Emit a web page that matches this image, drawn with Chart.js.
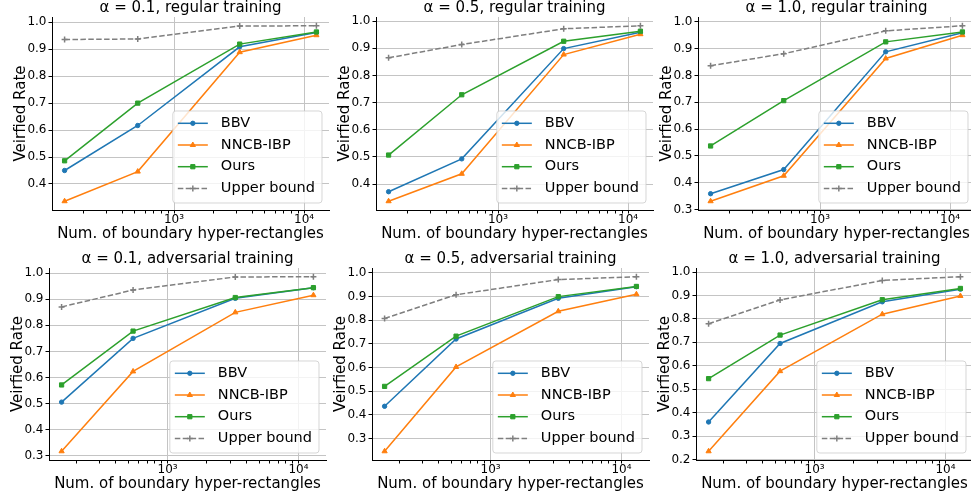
<!DOCTYPE html>
<html>
<head>
<meta charset="utf-8">
<script src="https://cdn.jsdelivr.net/npm/chart.js@4.4.1/dist/chart.umd.min.js"></script>
<style>
  html, body { margin: 0; padding: 0; background: #fff; }
  #figure { position: relative; width: 971px; height: 494px; overflow: hidden; background: #fff; }
  #figure canvas { position: absolute; }
</style>
</head>
<body>
<div id="figure"></div>
<script>
// x values (number of boundary hyper-rectangles)
const xRegular = [144, 526, 3200, 12450];
const xAdversarial = [155, 545, 3290, 13000];

const seriesLabels = ['BBV', 'NNCB-IBP', 'Ours', 'Upper bound'];
const panelTitles = [
    'α = 0.1, regular training', 'α = 0.5, regular training', 'α = 1.0, regular training',
    'α = 0.1, adversarial training', 'α = 0.5, adversarial training', 'α = 1.0, adversarial training'
];
const xTitle = 'Num. of boundary hyper-rectangles';
const yTitle = 'Veirfied Rate';

const xTickValues = [200, 300, 400, 500, 600, 700, 800, 900, 1000,
    2000, 3000, 4000, 5000, 6000, 7000, 8000, 9000, 10000];
const xTickLabels = { 1000: '10³', 10000: '10⁴' };

// regular training
const bbvReg01 = [0.450, 0.617, 0.909, 0.962];
const nncbReg01 = [0.336, 0.446, 0.889, 0.952];
const oursReg01 = [0.486, 0.700, 0.919, 0.964];
const upperReg01 = [0.936, 0.938, 0.986, 0.987];

const bbvReg05 = [0.372, 0.493, 0.899, 0.959];
const nncbReg05 = [0.337, 0.438, 0.877, 0.952];
const oursReg05 = [0.507, 0.729, 0.926, 0.963];
const upperReg05 = [0.865, 0.914, 0.972, 0.983];

const bbvReg10 = [0.359, 0.449, 0.888, 0.959];
const nncbReg10 = [0.331, 0.426, 0.863, 0.950];
const oursReg10 = [0.537, 0.706, 0.925, 0.962];
const upperReg10 = [0.836, 0.881, 0.966, 0.985];

// adversarial training
const bbvAdv01 = [0.505, 0.750, 0.904, 0.945];
const nncbAdv01 = [0.316, 0.623, 0.850, 0.916];
const oursAdv01 = [0.571, 0.778, 0.907, 0.945];
const upperAdv01 = [0.871, 0.936, 0.986, 0.987];

const bbvAdv05 = [0.436, 0.720, 0.892, 0.941];
const nncbAdv05 = [0.246, 0.602, 0.837, 0.909];
const oursAdv05 = [0.520, 0.732, 0.899, 0.942];
const upperAdv05 = [0.807, 0.907, 0.971, 0.983];

const bbvAdv10 = [0.360, 0.695, 0.873, 0.927];
const nncbAdv10 = [0.235, 0.577, 0.820, 0.898];
const oursAdv10 = [0.545, 0.731, 0.882, 0.930];
const upperAdv10 = [0.779, 0.881, 0.964, 0.980];

const panels = [
    { row: 0, col: 0, x: xRegular, series: [bbvReg01, nncbReg01, oursReg01, upperReg01] },
    { row: 0, col: 1, x: xRegular, series: [bbvReg05, nncbReg05, oursReg05, upperReg05] },
    { row: 0, col: 2, x: xRegular, series: [bbvReg10, nncbReg10, oursReg10, upperReg10] },
    { row: 1, col: 0, x: xAdversarial, series: [bbvAdv01, nncbAdv01, oursAdv01, upperAdv01] },
    { row: 1, col: 1, x: xAdversarial, series: [bbvAdv05, nncbAdv05, oursAdv05, upperAdv05] },
    { row: 1, col: 2, x: xAdversarial, series: [bbvAdv10, nncbAdv10, oursAdv10, upperAdv10] }
];

const seriesStyles = [
    { color: '#1f77b4', pointStyle: 'circle', radius: 2.2, pointBorder: 1, dash: [] },
    { color: '#ff7f0e', pointStyle: 'triangle', radius: 3, pointBorder: 1, dash: [] },
    { color: '#2ca02c', pointStyle: 'rect', radius: 3, pointBorder: 1, dash: [] },
    { color: '#7f7f7f', pointStyle: 'cross', radius: 3, pointBorder: 1.5, dash: [5.5, 2.4] }
];

// canvas geometry for each row
const rows = [
    { top: 0, height: 247, lefts: [0, 323.5, 645.5], axisWidth: 52, xScaleHeight: 37, xTitlePad: 4, yTitlePad: 12.5 },
    { top: 251, height: 243, lefts: [0, 323, 647], axisWidth: 49, xScaleHeight: 34, xTitlePad: 1, yTitlePad: 9 }
];
const canvasWidth = 340;
const plotWidth = 277;
const gridColor = '#c4c4c4';
const fontFamily = '"DejaVu Sans", "Liberation Sans", sans-serif';

Chart.defaults.font.family = fontFamily;
Chart.defaults.color = '#000';

function paddedRange(lo, hi) {
    const m = (hi - lo) * 0.05;
    return [lo - m, hi + m];
}

function isDecade(v) {
    if (!v) return false;
    const l = Math.log10(v);
    return Math.abs(l - Math.round(l)) < 1e-9;
}

function drawMarker(ctx, style, x, y) {
    if (Chart.helpers && Chart.helpers.drawPoint) {
        Chart.helpers.drawPoint(ctx, {
            pointStyle: style.pointStyle, radius: style.radius,
            rotation: 0, borderWidth: style.pointBorder
        }, x, y);
        return;
    }
    ctx.beginPath();
    ctx.arc(x, y, style.radius, 0, Math.PI * 2);
    ctx.fill();
}

// legend drawn inside the plot area, lower right
const innerLegend = {
    id: 'innerLegend',
    afterDraw(chart) {
        const { ctx, chartArea } = chart;
        ctx.save();
        ctx.font = '14.5px ' + fontFamily;
        const textW = Math.max(...seriesLabels.map(t => ctx.measureText(t).width));
        const w = 48 + textW + 7;
        const h = 92;
        const x = chartArea.right - 7 - w;
        const y = chartArea.bottom - 7 - h;

        ctx.beginPath();
        if (ctx.roundRect) ctx.roundRect(x, y, w, h, 3); else ctx.rect(x, y, w, h);
        ctx.fillStyle = 'rgba(255,255,255,0.8)';
        ctx.fill();
        ctx.strokeStyle = 'rgba(204,204,204,0.8)';
        ctx.lineWidth = 1;
        ctx.stroke();

        seriesLabels.forEach((label, i) => {
            const st = seriesStyles[i];
            const cy = y + 12.3 + i * 21.7;
            ctx.strokeStyle = st.color;
            ctx.lineWidth = 1.5;
            ctx.setLineDash(st.dash);
            ctx.beginPath();
            ctx.moveTo(x + 5, cy);
            ctx.lineTo(x + 35, cy);
            ctx.stroke();
            ctx.setLineDash([]);
            ctx.fillStyle = st.color;
            ctx.lineWidth = st.pointBorder;
            drawMarker(ctx, st, x + 20, cy);
            ctx.fillStyle = '#000';
            ctx.textBaseline = 'middle';
            ctx.textAlign = 'left';
            ctx.fillText(label, x + 48, cy);
        });
        ctx.restore();
    }
};

const figure = document.getElementById('figure');

panels.forEach((p, idx) => {
    const r = rows[p.row];
    const canvas = document.createElement('canvas');
    canvas.width = canvasWidth;
    canvas.height = r.height;
    canvas.style.left = r.lefts[p.col] + 'px';
    canvas.style.top = r.top + 'px';
    canvas.style.width = canvasWidth + 'px';
    canvas.style.height = r.height + 'px';
    figure.appendChild(canvas);

    const all = p.series.flat();
    const [yMin, yMax] = paddedRange(Math.min(...all), Math.max(...all));
    const [lx0, lx1] = paddedRange(Math.log10(Math.min(...p.x)), Math.log10(Math.max(...p.x)));

    const datasets = p.series.map((vals, i) => {
        const st = seriesStyles[i];
        return {
            label: seriesLabels[i],
            data: vals.map((v, k) => ({ x: p.x[k], y: v })),
            borderColor: st.color,
            backgroundColor: st.color,
            borderWidth: 1.5,
            borderDash: st.dash,
            pointStyle: st.pointStyle,
            pointRadius: st.radius,
            pointBorderWidth: st.pointBorder,
            pointBackgroundColor: st.color,
            pointBorderColor: st.color,
            tension: 0,
            fill: false,
            order: 4 - i
        };
    });

    new Chart(canvas, {
        type: 'line',
        data: { datasets },
        options: {
            responsive: false,
            animation: false,
            events: [],
            devicePixelRatio: window.devicePixelRatio || 1,
            layout: { padding: { left: 0, top: 0, bottom: 0, right: canvasWidth - r.axisWidth - plotWidth } },
            plugins: {
                legend: { display: false },
                tooltip: { enabled: false },
                title: {
                    display: true,
                    text: panelTitles[idx],
                    fullSize: false,
                    color: '#000',
                    font: { size: 15, weight: 'normal', lineHeight: 17 / 15 },
                    padding: 0
                }
            },
            scales: {
                x: {
                    type: 'logarithmic',
                    min: Math.pow(10, lx0),
                    max: Math.pow(10, lx1),
                    afterFit(s) { s.height = r.xScaleHeight; },
                    afterBuildTicks(s) {
                        s.ticks = xTickValues.filter(v => v >= s.min && v <= s.max).map(v => ({ value: v }));
                    },
                    ticks: {
                        autoSkip: false,
                        maxRotation: 0,
                        padding: 0,
                        color: '#000',
                        font: { size: 12, lineHeight: 1 },
                        callback: v => xTickLabels[v] || ''
                    },
                    grid: {
                        color: c => (c.tick && isDecade(c.tick.value)) ? gridColor : 'rgba(0,0,0,0)',
                        tickColor: '#000',
                        tickLength: 3.5,
                        lineWidth: 1
                    },
                    border: { display: true, color: '#000', width: 1 },
                    title: {
                        display: true,
                        text: xTitle,
                        color: '#000',
                        font: { size: 15 },
                        padding: { top: 0, bottom: r.xTitlePad }
                    }
                },
                y: {
                    type: 'linear',
                    min: yMin,
                    max: yMax,
                    afterFit(s) { s.width = r.axisWidth; },
                    ticks: {
                        stepSize: 0.1,
                        includeBounds: false,
                        padding: 2,
                        color: '#000',
                        font: { size: 12 },
                        callback: v => v.toFixed(1)
                    },
                    grid: { color: gridColor, tickColor: '#000', tickLength: 3.5, lineWidth: 1 },
                    border: { display: true, color: '#000', width: 1 },
                    title: {
                        display: true,
                        text: yTitle,
                        color: '#000',
                        font: { size: 15 },
                        padding: { top: r.yTitlePad, bottom: 0 }
                    }
                }
            }
        },
        plugins: [innerLegend]
    });
});
</script>
</body>
</html>
